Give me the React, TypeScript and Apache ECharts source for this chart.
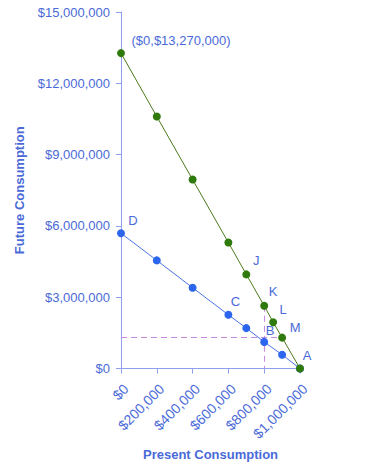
import React, { useEffect, useRef } from "react";
import * as echarts from "echarts";

const xTicks = [0, 200000, 400000, 600000, 800000, 1000000];
const yTicks = [0, 3000000, 6000000, 9000000, 12000000, 15000000];

const greenX = [0, 200000, 400000, 600000, 700000, 800000, 850000, 900000, 1000000];
const greenY = [13270000, 10600000, 7950000, 5300000, 3960000, 2640000, 1950000, 1300000, 0];
const greenLabels = ["($0,$13,270,000)", "", "", "", "J", "K", "L", "M", "A"];
const greenOffsets: [number, number][] = [[60, -13], [0, 0], [0, 0], [0, 0], [10, -14], [9, -14], [10, -13], [13, -10], [7, -13]];

const blueX = [0, 200000, 400000, 600000, 700000, 800000, 900000, 1000000];
const blueY = [5690000, 4550000, 3400000, 2260000, 1700000, 1120000, 580000, 0];
const blueLabels = ["D", "", "", "C", "", "B", "", ""];
const blueOffsets: [number, number][] = [[12, -13], [0, 0], [0, 0], [7, -13], [0, 0], [6, -11], [0, 0], [0, 0]];

const dashH = [[0, 1300000], [880000, 1300000]];
const dashV = [[800000, 2640000], [800000, 0]];

const TXT = "#4a6ad8";
const FONT = "Liberation Sans, Arial, sans-serif";

function money(v: number) {
  return "$" + Math.round(v).toLocaleString("en-US");
}

function buildData(xs: number[], ys: number[], labels: string[], offs: [number, number][]) {
  return xs.map((x, i) => ({
    value: [x, ys[i]],
    label: labels[i]
      ? {
          show: true,
          formatter: labels[i],
          position: "inside",
          offset: offs[i],
          color: TXT,
          fontSize: 13,
          fontFamily: FONT,
        }
      : { show: false },
  }));
}

export default function App() {
  const ref = useRef<HTMLDivElement>(null);
  useEffect(() => {
    document.body.style.margin = "0";
    if (!ref.current) return;
    const chart = echarts.init(ref.current, null, { renderer: "svg" });
    chart.setOption({
      animation: false,
      backgroundColor: "#ffffff",
      grid: { left: 121, right: 90, top: 12, bottom: 96, containLabel: false },
      xAxis: {
        type: "value",
        min: 0,
        max: 1000000,
        interval: 200000,
        name: "Present Consumption",
        nameLocation: "middle",
        nameGap: 76,
        nameTextStyle: { color: TXT, fontSize: 13, fontWeight: "bold", fontFamily: FONT },
        axisLine: { show: true, lineStyle: { color: "#8f9ff0", width: 1 } },
        axisTick: { show: true, length: 5, lineStyle: { color: "#8f9ff0" } },
        axisLabel: {
          rotate: 45,
          margin: 13,
          align: "right",
          verticalAlign: "top",
          color: TXT,
          fontSize: 14,
          fontFamily: FONT,
          formatter: (v: number) => money(v),
        },
        splitLine: { show: false },
      },
      yAxis: {
        type: "value",
        min: 0,
        max: 15000000,
        interval: 3000000,
        name: "Future Consumption",
        nameLocation: "middle",
        nameGap: 95,
        nameTextStyle: { color: TXT, fontSize: 13, fontWeight: "bold", fontFamily: FONT },
        axisLine: { show: true, lineStyle: { color: "#8f9ff0", width: 1 } },
        axisTick: { show: true, length: 5, lineStyle: { color: "#8f9ff0" } },
        axisLabel: {
          margin: 11,
          color: TXT,
          fontSize: 13,
          fontFamily: FONT,
          formatter: (v: number) => money(v),
        },
        splitLine: { show: false },
      },
      series: [
        {
          type: "line",
          data: buildData(blueX, blueY, blueLabels, blueOffsets),
          symbol: "circle",
          symbolSize: 8,
          lineStyle: { color: "#4a72e4", width: 1 },
          itemStyle: { color: "#2d66ee" },
          z: 3,
          markLine: {
            silent: true,
            symbol: "none",
            label: { show: false },
            lineStyle: { color: "#c98ae2", type: [6, 4], width: 1 },
            data: [
              [{ coord: dashH[0] }, { coord: dashH[1] }],
              [{ coord: dashV[0] }, { coord: dashV[1] }],
            ],
            z: 1,
          },
        },
        {
          type: "line",
          data: buildData(greenX, greenY, greenLabels, greenOffsets),
          symbol: "circle",
          symbolSize: 8,
          lineStyle: { color: "#4b7a1c", width: 1 },
          itemStyle: { color: "#2f7a0c" },
          z: 4,
        },
      ],
    });
    return () => chart.dispose();
  }, []);
  return <div ref={ref} style={{ width: 390, height: 466 }} />;
}
